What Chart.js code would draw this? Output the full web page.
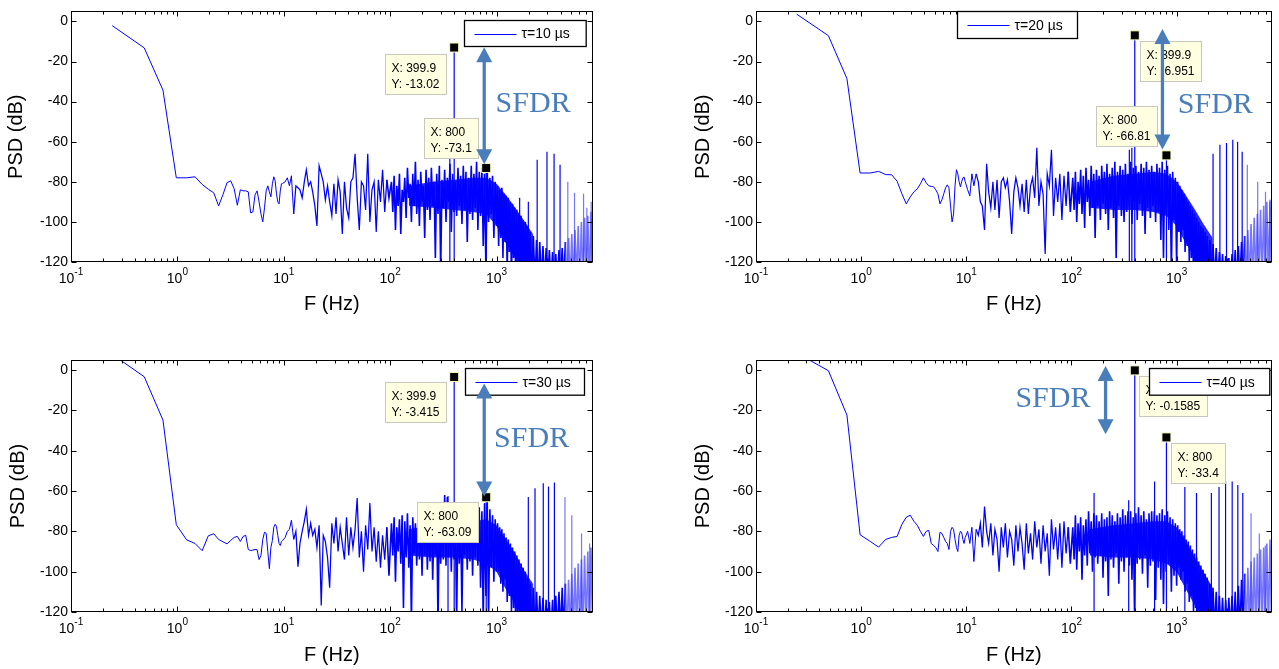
<!DOCTYPE html>
<html>
<head>
<meta charset="utf-8">
<script src="https://cdn.jsdelivr.net/npm/chart.js"></script>
<style>
  body { margin: 0; background: #fff; }
  .panel { position: absolute; }
</style>
</head>
<body>
<div class="panel" style="left:0px;top:0px;width:600px;height:320px"><canvas id="c10"></canvas></div>
<div class="panel" style="left:680px;top:0px;width:599px;height:320px"><canvas id="c20"></canvas></div>
<div class="panel" style="left:0px;top:340px;width:600px;height:329px"><canvas id="c30"></canvas></div>
<div class="panel" style="left:680px;top:340px;width:599px;height:329px"><canvas id="c40"></canvas></div>
<script>
// frequency grid (Hz), shared by the four spectra
const freq = [
  // bins below 10 Hz
  0.244,0.488,0.732,0.977,1.221,1.465,1.709,1.953,2.197,2.441,
  2.686,2.930,3.174,3.418,3.662,3.906,4.150,4.395,4.639,4.883,
  5.127,5.371,5.615,5.859,6.104,6.348,6.592,6.836,7.080,7.324,
  7.568,7.813,8.057,8.301,8.545,8.789,9.033,9.277,9.521,9.766,
  // 10 - 100 Hz
  10.3,10.8,11.3,11.8,12.4,13.0,13.6,14.2,14.9,15.6,
  16.3,17.1,17.9,18.7,19.6,20.5,21.5,22.5,23.5,24.6,
  25.8,27.0,28.3,29.6,31.0,32.4,33.9,35.5,37.2,38.9,
  40.8,42.7,44.7,46.8,49.0,51.3,53.7,56.2,58.8,61.6,
  64.5,67.5,70.7,74.0,77.5,81.1,84.9,88.9,93.1,97.5,
  // 100 - 1000 Hz
  102.9,105.9,109.0,112.2,115.5,118.9,122.3,125.9,129.6,133.4,
  137.3,141.3,145.4,149.6,154.0,158.5,163.1,167.9,172.8,177.8,
  183.0,188.4,193.9,199.5,205.4,211.3,217.5,223.9,230.4,237.1,
  244.1,251.2,258.5,266.1,273.8,281.8,290.1,298.5,307.2,316.2,
  325.5,335.0,344.7,354.8,365.2,375.8,386.8,398.1,409.7,421.7,
  434.0,446.7,459.7,473.2,486.9,501.2,515.8,530.9,546.4,562.3,
  578.7,595.7,613.1,631.0,649.4,668.3,687.9,707.9,728.6,749.9,
  771.8,794.3,817.5,841.4,866.0,891.3,917.3,944.1,971.6,1000,
  // 1 - 2 kHz
  1023,1047,1072,1097,1122,1149,1175,1203,1231,1260,
  1289,1319,1350,1382,1414,1447,1481,1516,1551,1587,
  1624,1662,1701,1741,1782,1823,1866,1910,1954,2000,
  // 2 - 8 kHz
  2071,2144,2219,2297,2378,2462,2549,2639,2732,2828,
  2928,3031,3138,3249,3364,3482,3605,3732,3864,4000,
  4141,4287,4438,4595,4757,4925,5099,5278,5465,5657,
  5857,6063,6277,6498,6727,6964,7210,7464,7727,8000
];

// PSD (dB), one value per freq entry
const psd10 = [
  -2.1,-13.2,-34.3,-78,-78,-77.5,-81.3,-83.7,-85.5,-92,
  -86.3,-80.4,-79.5,-83.5,-91.7,-84,-84.5,-84.5,-85,-95.5,
  -95,-86.5,-84.5,-90,-96,-100,-93,-84.5,-82,-85,
  -87.5,-81,-77.5,-79.5,-86,-90,-91,-84.5,-81,-80.8,
  -80,-78,-82,-77,-96,-82,-83,-84,-88,-80,
  -74,-82,-80,-85,-92,-102,-72,-76,-80,-89,
  -82,-90,-97,-81,-96,-79,-85,-106,-80,-93,
  -98,-80,-78,-66,-88,-104,-80,-82,-94,-66,
  -100,-84,-80,-105,-79,-90,-74,-95,-79,-88,
  -80,-95,-77,-104,-82,-92,-76,-106,-84,-90,
  -78,-98,-73,-88,-81,-100,-76,-92,-70,-96,
  -79,-102,-75,-90,-82,-108,-74,-94,-78,-99,
  -73,-92,-80,-118,-76,-96,-72,-125,-79,-93,
  -74,-100,-78,-90,-71,-105,-76,-95,-80,-97,
  -73,-92,-77,-101,-72,-94,-75,-110,-78,-96,
  -72,-99,-76,-93,-70,-104,-75,-97,-73,-112,
  -76,-124,-74,-100,-78,-96,-77,-108,-80,-102,
  -82,-112,-84,-108,-83,-118,-86,-110,-87,-125,
  -88,-115,-90,-130,-91,-118,-93,-130,-94,-122,
  -96,-130,-97,-125,-99,-130,-100,-128,-102,-130,
  -105,-130,-107,-130,-109,-130,-110,-130,-112,-130,
  -113,-130,-114,-130,-115,-130,-116,-130,-114,-130,
  -113,-130,-110,-130,-108,-130,-106,-130,-104,-130,
  -102,-130,-100,-130,-98,-130,-97,-130,-95,-130
];
const psd20 = [
  3.6,-7.1,-28.5,-75.6,-75.6,-74.8,-76.4,-76.5,-79.7,-86,
  -91,-87.5,-85,-83.5,-81,-78,-80.5,-82,-82.3,-82.5,
  -84,-86,-91,-89,-86,-83,-81.5,-83,-92,-100,
  -96,-82,-74,-76,-80,-82.5,-80,-78,-77.6,-80,
  -84,-87,-76,-82,-76,-80,-90,-92,-104,-71,
  -85,-93,-80,-94,-79,-98,-80,-78,-83,-79,
  -90,-106,-85,-78,-83,-92,-81,-95,-79,-96,
  -82,-78,-88,-63,-92,-80,-86,-116,-76,-82,
  -64,-97,-78,-90,-76,-99,-77,-92,-75,-95,
  -78,-94,-75,-100,-80,-91,-74,-96,-77,-103,
  -73,-90,-79,-97,-72,-93,-76,-108,-74,-92,
  -77,-99,-72,-91,-75,-96,-71,-104,-76,-93,
  -73,-98,-70,-118,-75,-92,-72,-97,-74,-100,
  -71,-95,-76,-92,-70,-101,-73,-94,-72,-99,
  -75,-91,-71,-97,-73,-106,-70,-93,-74,-98,
  -72,-92,-75,-100,-71,-95,-73,-109,-70,-118,
  -74,-96,-72,-104,-76,-126,-75,-99,-78,-122,
  -80,-105,-82,-110,-84,-104,-86,-115,-88,-112,
  -90,-120,-92,-118,-94,-130,-96,-122,-98,-130,
  -100,-125,-102,-130,-103,-130,-105,-130,-107,-130,
  -109,-130,-111,-130,-113,-130,-115,-130,-116,-130,
  -117,-130,-118,-130,-116,-130,-114,-130,-112,-130,
  -110,-130,-107,-130,-104,-130,-101,-130,-98,-130,
  -96,-130,-94,-130,-92,-130,-90,-130,-89,-130
];
const psd30 = [
  7.8,-3.3,-24.8,-76.7,-84.2,-86,-89.6,-82.2,-81.2,-84,
  -85.2,-86.2,-84.5,-83,-82.5,-85,-82.5,-82,-89,-89.5,
  -89.3,-89,-89.1,-94,-92,-84,-80.4,-81,-90,-98.5,
  -88,-84.5,-78,-76.5,-77.5,-82,-86,-87,-85,-84.5,
  -83,-80,-79,-74.5,-84,-80,-97.5,-86,-80,-75,
  -69,-82,-76,-82,-79,-88,-77,-116.8,-82,-85,
  -93,-108,-76,-86,-73,-90,-78,-86,-94,-73,
  -92,-78,-88,-79,-63.5,-93,-80,-100,-77,-89,
  -66,-90,-78,-95,-80,-98,-82,-94,-78,-102,
  -76,-92,-73,-105,-78,-90,-74,-96,-72,-118,
  -75,-93,-71,-98,-77,-125,-73,-91,-76,-97,
  -72,-94,-75,-102,-71,-92,-74,-99,-73,-95,
  -70,-104,-74,-92,-72,-126,-71,-96,-75,-94,
  -62,-97,-63,-93,-72,-100,-70,-94,-73,-125,
  -71,-96,-74,-120,-70,-92,-73,-99,-72,-95,
  -70,-102,-74,-93,-71,-97,-68,-108,-70,-126,
  -66,-112,-64,-124,-69,-98,-72,-105,-74,-100,
  -76,-100,-78,-106,-79,-110,-81,-104,-83,-115,
  -84,-112,-86,-120,-88,-118,-90,-130,-92,-122,
  -94,-130,-96,-126,-98,-130,-100,-130,-103,-130,
  -106,-130,-108,-130,-110,-130,-112,-130,-113,-130,
  -114,-130,-115,-130,-114,-130,-112,-130,-110,-130,
  -108,-130,-106,-130,-104,-130,-101,-130,-98,-130,
  -96,-130,-94,-130,-92,-130,-90,-130,-88,-130
];
const psd40 = [
  8.5,-0.3,-22.3,-81.7,-85,-87.8,-84,-83,-82.5,-76.5,
  -73,-72,-75,-77,-80,-82.5,-80,-79.5,-86,-87,
  -88,-90,-80.5,-81,-83,-85,-86,-89,-80,-78,
  -79,-84,-88,-90,-82,-80,-80.5,-84,-86,-83,
  -80,-86,-78,-95,-79,-82,-76,-88,-67.7,-80,
  -86,-76,-92,-79,-84,-100,-78,-88,-76,-93,
  -80,-84,-97,-77,-90,-78,-86,-99,-76,-91,
  -81,-94,-75,-88,-79,-96,-77,-90,-81,-102,
  -74,-89,-78,-94,-76,-98,-75,-91,-78,-96,
  -78,-94,-72,-99,-76,-90,-73,-104,-77,-92,
  -74,-97,-70,-91,-75,-100,-71,-93,-72,-96,
  -75,-92,-71,-103,-74,-95,-73,-112,-70,-94,
  -72,-98,-75,-91,-71,-106,-73,-95,-69,-100,
  -72,-93,-70,-97,-70,-104,-73,-122,-71,-96,
  -68,-94,-72,-101,-70,-92,-74,-108,-71,-97,
  -70,-95,-70,-114,-72,-98,-71,-104,-69,-116,
  -72,-100,-70,-96,-73,-110,-74,-102,-76,-107,
  -77,-98,-79,-104,-80,-100,-82,-110,-84,-106,
  -85,-115,-87,-112,-89,-120,-91,-118,-93,-126,
  -95,-122,-97,-130,-99,-125,-101,-130,-103,-130,
  -106,-130,-108,-130,-110,-130,-112,-130,-113,-130,
  -114,-130,-113,-130,-112,-130,-110,-130,-107,-130,
  -104,-130,-101,-130,-98,-130,-95,-130,-93,-130,
  -91,-130,-89,-130,-88,-130,-86,-130,-84,-130
];

// solid core of the dense noise band (Hz, upper / lower dB edge)
const coreF = [150, 250, 400, 600, 800, 1000, 1200, 1500, 1800, 2200];
const coreTop10 = [-82, -80, -79, -78, -78, -81, -86, -93, -99, -106];
const coreBot10 = [-92, -93, -94, -95, -96, -102, -110, -118, -122, -122];
const coreTop20 = [-80, -77, -76, -75, -76, -80, -86, -94, -101, -108];
const coreBot20 = [-93, -94, -94, -95, -97, -102, -110, -118, -122, -122];
const coreTop30 = [-79, -77, -76, -75, -74, -77, -83, -91, -99, -106];
const coreBot30 = [-92, -93, -93, -94, -96, -100, -108, -116, -122, -122];
const coreTop40 = [-79, -77, -76, -75, -75, -78, -84, -93, -100, -108];
const coreBot40 = [-92, -93, -93, -94, -96, -100, -108, -117, -122, -122];

// narrow spectral lines (Hz / peak dB)
const spikeF10 = [364, 399.9, 800, 1650, 1991, 2410, 2980, 3475, 3955, 4677, 5408, 6577, 7063, 7762];
const spikeDb10 = [-65.7, -13.02, -73.1, -88, -90, -69, -65, -66, -71.5, -80, -85.5, -86, -93, -90];
const spikeF20 = [355, 375, 399.9, 800, 2220, 2580, 2980, 3420, 3800, 4200, 4700, 5900, 7000, 7700];
const spikeDb20 = [-64, -63, -6.951, -66.81, -66, -61.5, -60.7, -59, -60, -65, -71.5, -80, -85, -90];
const spikeF30 = [350, 399.9, 800, 1990, 2300, 2750, 3080, 3500, 4400, 5100, 6300, 7500];
const spikeDb30 = [-62.4, -3.415, -63.09, -63, -58.6, -56.1, -57.8, -55.8, -63, -72, -81, -86];
const spikeF40 = [164, 350, 399.9, 617, 800, 1197, 1545, 2140, 2530, 2920, 3375, 3818, 4256, 5100, 6115, 6965];
const spikeDb40 = [-61, -64.6, -0.1585, -55.3, -33.4, -58, -61, -61, -58, -55.3, -55.3, -57, -61, -71, -81, -87];

// data tips
const tipF10 = [399.9, 800], tipDb10 = [-13.02, -73.1];
const tipF20 = [399.9, 800], tipDb20 = [-6.951, -66.81];
const tipF30 = [399.9, 800], tipDb30 = [-3.415, -63.09];
const tipF40 = [399.9, 800], tipDb40 = [-0.1585, -33.4];

// axes
const xTicks = [0.1, 1, 10, 100, 1000];
const xTickExp = ["-1", "0", "1", "2", "3"];
const yTicks = [-120, -100, -80, -60, -40, -20, 0];
const xMin = 0.1, xMax = 8000, yMin = -120, yMax = 5;

const fam = '"Liberation Sans", Arial, Helvetica, sans-serif';
const serif = '"Liberation Serif", "Times New Roman", serif';
const sfdrColor = "#4a7ebb";
const floorDb = -130; // spike base, below the axis
Chart.defaults.font.family = fam;
Chart.defaults.color = "#000";

// layout of each panel (pixels are relative to the canvas / plot box)
const panels = [
  { id: "c10", psd: psd10, label: "τ=10 µs", spF: spikeF10, spDb: spikeDb10, tipF: tipF10, tipDb: tipDb10,
    coreTop: coreTop10, coreBot: coreBot10,
    pad: { left: 0, right: 7, top: 9.5, bottom: 0 }, yW: 71, xH: 58, yTitlePad: 4, xTitlePad: 3.5,
    tipOff: [[-69.5, 6], [-62, -50]], legend: [393.3, 8.8, 121.7, 26],
    arrow: [766, -12.9, -71.3], sfdr: [2208, -40.3] },
  { id: "c20", psd: psd20, label: "τ=20 µs", spF: spikeF20, spDb: spikeDb20, tipF: tipF20, tipDb: tipDb20,
    coreTop: coreTop20, coreBot: coreBot20,
    pad: { left: 0, right: 3, top: 9.5, bottom: 0 }, yW: 76, xH: 58, yTitlePad: 11, xTitlePad: 3.5,
    tipOff: [[5, 6], [-70.7, -49]], legend: [200.7, 0, 120, 27],
    arrow: [733, -3.8, -63.9], sfdr: [2333, -40.5] },
  { id: "c30", psd: psd30, label: "τ=30 µs", spF: spikeF30, spDb: spikeDb30, tipF: tipF30, tipDb: tipDb30,
    coreTop: coreTop30, coreBot: coreBot30,
    pad: { left: 0, right: 7, top: 20, bottom: 0 }, yW: 71, xH: 57, yTitlePad: 6.5, xTitlePad: 2,
    tipOff: [[-69.5, 5], [-69.7, 5]], legend: [394, 8.3, 119, 26.7],
    arrow: [766, -6.6, -62.7], sfdr: [2138, -33] },
  { id: "c40", psd: psd40, label: "τ=40 µs", spF: spikeF40, spDb: spikeDb40, tipF: tipF40, tipDb: tipDb40,
    coreTop: coreTop40, coreBot: coreBot40,
    pad: { left: 0, right: 3, top: 20, bottom: 0 }, yW: 76, xH: 57, yTitlePad: 11, xTitlePad: 2,
    tipOff: [[4.5, 6], [4.6, 6]], legend: [393, 8.3, 120.3, 26.7],
    arrow: [211, 2, -31.8], sfdr: [66.6, -13.2] }
];

// the dense tail above ~4.3 kHz looks lighter in the original
function lightTail(c) {
  return c.p0.parsed.x > 4300 ? "rgba(60,60,255,0.7)" : undefined;
}
// the dense part of the spectrum is drawn a bit heavier so it reads as a band
function bandWidth(c) {
  const f = c.p0.parsed.x;
  if (f > 90) return 1.6;
  if (f > 12) return 1.25;
  return undefined;
}

function arrowHead(ctx, x, y, dir) {
  ctx.beginPath();
  ctx.moveTo(x, y);
  ctx.lineTo(x - 8, y + dir * 15);
  ctx.lineTo(x + 8, y + dir * 15);
  ctx.closePath();
  ctx.fill();
}

// box, inward ticks, 10^n labels, data tips, legend, SFDR arrow
function makeDecor(p) {
  return {
    id: "decor",
    afterDraw(chart) {
      const ctx = chart.ctx;
      const a = chart.chartArea;
      const xs = chart.scales.x, ys = chart.scales.y;
      const L = Math.round(a.left) + 0.5, R = Math.round(a.right) - 0.5;
      const T = Math.round(a.top) + 0.5, B = Math.round(a.bottom) - 0.5;
      ctx.save();
      ctx.strokeStyle = "#000";
      ctx.lineWidth = 1;
      ctx.strokeRect(L, T, R - L, B - T);
      ctx.beginPath();
      xTicks.forEach(d => {
        for (let m = 1; m <= 9; m++) {
          const v = d * m;
          if (v >= xMax) break;
          const px = Math.round(xs.getPixelForValue(v)) + 0.5;
          const len = m === 1 ? 5 : 3;
          ctx.moveTo(px, B); ctx.lineTo(px, B - len);
          ctx.moveTo(px, T); ctx.lineTo(px, T + len);
        }
      });
      yTicks.forEach(v => {
        const py = Math.round(ys.getPixelForValue(v)) + 0.5;
        ctx.moveTo(L, py); ctx.lineTo(L + 5, py);
        ctx.moveTo(R, py); ctx.lineTo(R - 5, py);
      });
      ctx.stroke();

      // x tick labels with superscript exponents
      ctx.fillStyle = "#000";
      ctx.textAlign = "left";
      ctx.textBaseline = "alphabetic";
      xTicks.forEach((v, i) => {
        const px = xs.getPixelForValue(v);
        ctx.font = "14px " + fam;
        const wb = ctx.measureText("10").width;
        ctx.font = "10px " + fam;
        const we = ctx.measureText(xTickExp[i]).width;
        const x0 = px - (wb + we) / 2;
        ctx.font = "14px " + fam;
        ctx.fillText("10", x0, a.bottom + 21);
        ctx.font = "10px " + fam;
        ctx.fillText(xTickExp[i], x0 + wb, a.bottom + 13);
      });

      // data tips
      ctx.font = "12px " + fam;
      p.tipF.forEach((f, i) => {
        const px = xs.getPixelForValue(f), py = ys.getPixelForValue(p.tipDb[i]);
        const l1 = "X: " + f, l2 = "Y: " + p.tipDb[i];
        const w = Math.round(Math.max(ctx.measureText(l1).width, ctx.measureText(l2).width) + 13);
        const bx = Math.round(px + p.tipOff[i][0]) + 0.5, by = Math.round(py + p.tipOff[i][1]) + 0.5;
        ctx.fillStyle = "#ffffe1";
        ctx.fillRect(bx, by, w, 40);
        ctx.strokeStyle = "#c8c8c0";
        ctx.strokeRect(bx, by, w, 40);
        ctx.fillStyle = "#000";
        ctx.fillText(l1, bx + 6, by + 17);
        ctx.fillText(l2, bx + 6, by + 33);
      });

      // legend
      const [lx, ly, lw, lh] = p.legend;
      const gx = Math.round(a.left + lx) + 0.5, gy = Math.round(a.top + ly) + 0.5;
      ctx.fillStyle = "#fff";
      ctx.fillRect(gx, gy, lw, lh);
      ctx.strokeStyle = "#000";
      ctx.lineWidth = 1.3;
      ctx.strokeRect(gx, gy, lw, lh);
      const my = Math.round(gy + lh / 2) + 0.5;
      ctx.strokeStyle = "#0000ff";
      ctx.lineWidth = 1;
      ctx.beginPath(); ctx.moveTo(gx + 10, my); ctx.lineTo(gx + 52, my); ctx.stroke();
      ctx.fillStyle = "#000";
      ctx.font = "14px " + fam;
      ctx.textBaseline = "middle";
      ctx.fillText(p.label, gx + 57, gy + lh / 2 + 1);

      // SFDR arrow and label
      const ax = xs.getPixelForValue(p.arrow[0]);
      const y1 = ys.getPixelForValue(p.arrow[1]), y2 = ys.getPixelForValue(p.arrow[2]);
      ctx.strokeStyle = sfdrColor;
      ctx.fillStyle = sfdrColor;
      ctx.lineWidth = 3.3;
      ctx.beginPath(); ctx.moveTo(ax, y1 + 14); ctx.lineTo(ax, y2 - 14); ctx.stroke();
      arrowHead(ctx, ax, y1, 1);
      arrowHead(ctx, ax, y2, -1);
      ctx.font = "30px " + serif;
      ctx.textAlign = "center";
      ctx.textBaseline = "alphabetic";
      ctx.fillText("SFDR", xs.getPixelForValue(p.sfdr[0]), ys.getPixelForValue(p.sfdr[1]) + 10);
      ctx.restore();
    }
  };
}

function renderPanel(p) {
  const main = p.psd.map((v, i) => ({ x: freq[i], y: v }));
  const spikes = [];
  p.spF.forEach((f, i) => {
    spikes.push({ x: f, y: floorDb }, { x: f, y: p.spDb[i] }, { x: f, y: null });
  });
  const marks = p.tipF.map((f, i) => ({ x: f, y: p.tipDb[i] }));
  const coreHi = coreF.map((f, i) => ({ x: f, y: p.coreTop[i] }));
  const coreLo = coreF.map((f, i) => ({ x: f, y: p.coreBot[i] }));
  return new Chart(document.getElementById(p.id), {
    type: "line",
    data: {
      datasets: [
        { label: "tips", data: marks, showLine: false, pointStyle: "rect", pointRadius: 6.4,
          pointBackgroundColor: "#000", pointBorderColor: "#ffffc0", pointBorderWidth: 1, clip: false, order: 0 },
        { label: "lines", data: spikes, borderColor: "#0000ff", borderWidth: 1.2, pointRadius: 0,
          spanGaps: false, segment: { borderColor: lightTail }, order: 1 },
        { label: "coreTop", data: coreHi, borderWidth: 0, pointRadius: 0, fill: "+1",
          backgroundColor: "rgba(0,0,255,0.85)", order: 3 },
        { label: "coreBot", data: coreLo, borderWidth: 0, pointRadius: 0, fill: false, order: 4 },
        { label: p.label, data: main, borderColor: "#0000ff", borderWidth: 1, pointRadius: 0,
          segment: { borderColor: lightTail, borderWidth: bandWidth }, order: 2 }
      ]
    },
    options: {
      responsive: true,
      maintainAspectRatio: false,
      animation: false,
      devicePixelRatio: 1,
      events: [],
      layout: { padding: p.pad },
      plugins: { legend: { display: false }, tooltip: { enabled: false } },
      scales: {
        x: {
          type: "logarithmic", min: xMin, max: xMax,
          ticks: { display: false },
          grid: { display: false, drawTicks: false },
          border: { display: false },
          title: { display: true, text: "F (Hz)", font: { size: 20 }, padding: { top: 0, bottom: p.xTitlePad } },
          afterFit: s => { s.height = p.xH; }
        },
        y: {
          min: yMin, max: yMax,
          afterBuildTicks: s => { s.ticks = yTicks.map(v => ({ value: v })); },
          ticks: { font: { size: 14 }, color: "#000", padding: 3 },
          grid: { display: false, drawTicks: false },
          border: { display: false },
          title: { display: true, text: "PSD (dB)", font: { size: 20 }, padding: { top: p.yTitlePad, bottom: 0 } },
          afterFit: s => { s.width = p.yW; }
        }
      }
    },
    plugins: [makeDecor(p)]
  });
}

panels.forEach(renderPanel);
</script>
</body>
</html>
